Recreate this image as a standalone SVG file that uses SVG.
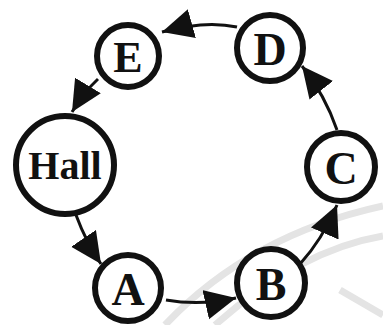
<svg xmlns="http://www.w3.org/2000/svg" width="383" height="325" viewBox="0 0 383 325">
<style>
.node circle{fill:#fff;stroke:#111;stroke-width:6}
.node text{font-family:"Liberation Serif",serif;font-weight:bold;fill:#111;text-anchor:middle;dominant-baseline:central}
.edge{fill:none;stroke:#111;stroke-width:3;marker-end:url(#ah)}
.bg{fill:none;stroke:#e4e4e4;stroke-width:7}
</style>
<defs>
<marker id="ah" markerUnits="userSpaceOnUse" markerWidth="34" markerHeight="34" refX="31" refY="15" orient="auto">
<path d="M0,0 L31,15 L0,30 Z" fill="#111"/>
</marker>
</defs>
<rect width="383" height="325" fill="#fff"/>
<g id="background">
<path class="bg" d="M165,325 Q250,235 383,206"/>
<path class="bg" d="M215,325 Q300,250 383,236"/>
<path class="bg" d="M340,290 L383,315" stroke-width="4"/>
</g>
<g id="connectors">
<path class="edge" d="M237,27 Q205,20 162,32"/>
<path class="edge" d="M98,79 Q84,92 72,112"/>
<path class="edge" d="M76,215 Q86,242 101,264"/>
<path class="edge" d="M166,300 Q200,306 236,298"/>
<path class="edge" d="M300,264 Q322,240 337,205"/>
<path class="edge" d="M337,130 Q325,95 302,66"/>
</g>
<g id="node-hall" class="node"><circle cx="65" cy="165" r="49"/><text x="65" y="165" font-size="40">Hall</text></g>
<g id="node-a" class="node"><circle cx="128" cy="288" r="33"/><text x="128" y="289" font-size="46">A</text></g>
<g id="node-b" class="node"><circle cx="271" cy="283" r="34"/><text x="271" y="284" font-size="46">B</text></g>
<g id="node-c" class="node"><circle cx="341" cy="167" r="34"/><text x="341" y="168" font-size="46">C</text></g>
<g id="node-d" class="node"><circle cx="270" cy="48" r="33"/><text x="270" y="49" font-size="46">D</text></g>
<g id="node-e" class="node"><circle cx="128" cy="56" r="31"/><text x="128" y="57" font-size="44">E</text></g>
</svg>
